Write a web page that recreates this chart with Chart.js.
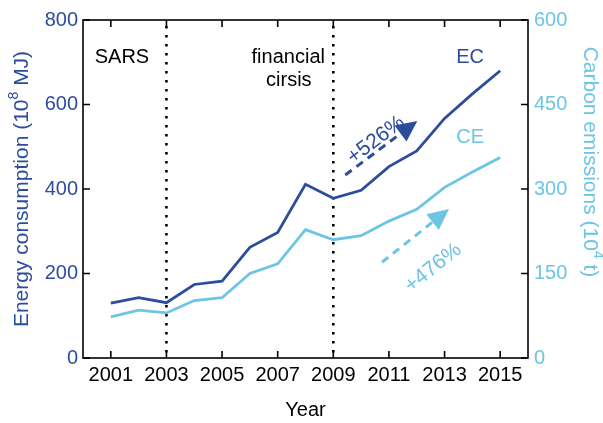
<!DOCTYPE html>
<html>
<head>
<meta charset="utf-8">
<script src="https://cdn.jsdelivr.net/npm/chart.js@4"></script>
<style>
  html, body { margin:0; padding:0; background:#fff; }
  #wrap { width:603px; height:423px; position:relative; }
</style>
</head>
<body>
<div id="wrap"><canvas id="c" width="603" height="423"></canvas></div>
<script>
// data
const years     = [2001,2002,2003,2004,2005,2006,2007,2008,2009,2010,2011,2012,2013,2014,2015];
const energyEC  = [130,143,131,174,182,262,297,411,378,397,453,490,567,625,680];   // 10^8 MJ
const carbonCE  = [73,85,80,102,107,150,167,228,210,217,243,264,303,330,356];      // 10^4 t
const xTicks    = [2001,2003,2005,2007,2009,2011,2013,2015];
const eventYears = [2003,2009];

const EC_COL = '#2c4c9c';
const CE_COL = '#6cc5e4';
const FONT = '"Liberation Sans", Arial, sans-serif';

// annotations, placed in data coordinates (year, value on given axis)
const labels = [
  { text:'SARS',      x:2001.4,  y:712, axis:'yL', color:'#000' },
  { text:'financial', x:2007.38, y:712, axis:'yL', color:'#000' },
  { text:'cirsis',    x:2007.4,  y:658, axis:'yL', color:'#000' },
  { text:'EC',        x:2013.92, y:712, axis:'yL', color:EC_COL },
  { text:'CE',        x:2013.92, y:521, axis:'yL', color:CE_COL }
];
const arrows = [
  { from:[2009.43,433], to:[2012.02,561], axis:'yL', color:EC_COL,
    text:'+526%', at:[2010.54,516] },
  { from:[2010.75,170], to:[2013.16,264.5], axis:'yR', color:CE_COL,
    text:'+476%', at:[2012.59,160] }
];

const pts = arr => years.map((y,i) => ({ x:y, y:arr[i] }));

function drawRich(ctx, parts, size) {
  // parts: [text, isSup], drawn centred on the current origin
  const supSize = Math.round(size*0.65);
  let w = 0;
  parts.forEach(p => { ctx.font = (p[1]?supSize:size) + 'px ' + FONT; w += ctx.measureText(p[0]).width; });
  let x = -w/2;
  ctx.textAlign = 'left';
  parts.forEach(p => {
    ctx.font = (p[1]?supSize:size) + 'px ' + FONT;
    ctx.fillText(p[0], x, p[1] ? -size*0.38 : 0);
    x += ctx.measureText(p[0]).width;
  });
}

const plotDeco = {
  id:'plotDeco',
  beforeDatasetsDraw(chart) {
    const {ctx, chartArea:a, scales} = chart;
    ctx.save();
    ctx.strokeStyle = '#000';
    ctx.lineWidth = 2.6;
    ctx.setLineDash([2.6, 6.4]);
    eventYears.forEach(yr => {
      const x = scales.x.getPixelForValue(yr);
      ctx.beginPath();
      ctx.moveTo(x, a.top + 6);
      ctx.lineTo(x, a.bottom);
      ctx.stroke();
    });
    ctx.restore();
  },
  afterDatasetsDraw(chart) {
    const {ctx, chartArea:a, scales} = chart;
    ctx.save();
    // frame
    ctx.strokeStyle = '#000';
    ctx.lineWidth = 1.6;
    ctx.strokeRect(a.left, a.top, a.right - a.left, a.bottom - a.top);
    // inward ticks
    const tl = 7;
    ctx.beginPath();
    xTicks.forEach(v => {
      const x = scales.x.getPixelForValue(v);
      ctx.moveTo(x, a.bottom); ctx.lineTo(x, a.bottom - tl);
      ctx.moveTo(x, a.top);    ctx.lineTo(x, a.top + tl);
    });
    scales.yL.ticks.forEach(t => {
      const y = scales.yL.getPixelForValue(t.value);
      ctx.moveTo(a.left, y); ctx.lineTo(a.left + tl, y);
    });
    scales.yR.ticks.forEach(t => {
      const y = scales.yR.getPixelForValue(t.value);
      ctx.moveTo(a.right, y); ctx.lineTo(a.right - tl, y);
    });
    ctx.stroke();

    // text labels
    ctx.textAlign = 'center';
    ctx.textBaseline = 'middle';
    ctx.font = '20px ' + FONT;
    labels.forEach(l => {
      ctx.fillStyle = l.color;
      ctx.fillText(l.text, scales.x.getPixelForValue(l.x), scales[l.axis].getPixelForValue(l.y));
    });

    // trend arrows
    arrows.forEach(ar => {
      const ys = scales[ar.axis];
      const x0 = scales.x.getPixelForValue(ar.from[0]), y0 = ys.getPixelForValue(ar.from[1]);
      const x1 = scales.x.getPixelForValue(ar.to[0]),   y1 = ys.getPixelForValue(ar.to[1]);
      const ang = Math.atan2(y1 - y0, x1 - x0);
      const hl = 21, hw = 10;
      const bx = x1 - hl*Math.cos(ang), by = y1 - hl*Math.sin(ang);
      ctx.strokeStyle = ar.color;
      ctx.fillStyle = ar.color;
      ctx.lineWidth = 3;
      ctx.setLineDash([8, 6]);
      ctx.beginPath();
      ctx.moveTo(x0, y0); ctx.lineTo(bx, by);
      ctx.stroke();
      ctx.setLineDash([]);
      ctx.beginPath();
      ctx.moveTo(x1, y1);
      ctx.lineTo(bx + hw*Math.sin(ang), by - hw*Math.cos(ang));
      ctx.lineTo(bx - hw*Math.sin(ang), by + hw*Math.cos(ang));
      ctx.closePath();
      ctx.fill();
      ctx.save();
      ctx.translate(scales.x.getPixelForValue(ar.at[0]), ys.getPixelForValue(ar.at[1]));
      ctx.rotate(ang);
      ctx.textAlign = 'center';
      ctx.font = '21px ' + FONT;
      ctx.fillText(ar.text, 0, 0);
      ctx.restore();
    });

    // axis titles
    ctx.textBaseline = 'middle';
    ctx.fillStyle = EC_COL;
    ctx.save();
    ctx.translate(22, (a.top + a.bottom)/2);
    ctx.rotate(-Math.PI/2);
    drawRich(ctx, [['Energy consumption (10', false], ['8', true], [' MJ)', false]], 21);
    ctx.restore();

    ctx.fillStyle = CE_COL;
    ctx.save();
    ctx.translate(590, 162);
    ctx.rotate(Math.PI/2);
    drawRich(ctx, [['Carbon emissions (10', false], ['4', true], [' t)', false]], 21);
    ctx.restore();

    ctx.fillStyle = '#000';
    ctx.save();
    ctx.translate((a.left + a.right)/2, 410);
    drawRich(ctx, [['Year', false]], 20);
    ctx.restore();
    ctx.restore();
  }
};

new Chart(document.getElementById('c'), {
  type:'line',
  data:{
    datasets:[
      { label:'EC', data:pts(energyEC), yAxisID:'yL', borderColor:EC_COL, borderWidth:2.8,
        pointRadius:0, tension:0, fill:false },
      { label:'CE', data:pts(carbonCE), yAxisID:'yR', borderColor:CE_COL, borderWidth:2.8,
        pointRadius:0, tension:0, fill:false }
    ]
  },
  options:{
    responsive:false, animation:false,
    layout:{ padding:{ top:20, left:0, right:0, bottom:0 } },
    plugins:{ legend:{ display:false }, tooltip:{ enabled:false } },
    scales:{
      x:{
        type:'linear', min:2000, max:2016,
        afterBuildTicks: s => { s.ticks = xTicks.map(v => ({ value:v })); },
        afterFit: s => { s.height = 65; },
        grid:{ display:false, drawTicks:false }, border:{ display:false },
        ticks:{ color:'#000', font:{ family:FONT, size:20 }, padding:5, maxRotation:0,
          callback: v => String(v) }
      },
      yL:{
        position:'left', min:0, max:800,
        afterFit: s => { s.width = 83; },
        grid:{ display:false, drawTicks:false }, border:{ display:false },
        ticks:{ stepSize:200, color:EC_COL, font:{ family:FONT, size:20 }, padding:5 }
      },
      yR:{
        position:'right', min:0, max:600,
        afterFit: s => { s.width = 75; },
        grid:{ display:false, drawTicks:false }, border:{ display:false },
        ticks:{ stepSize:150, color:CE_COL, font:{ family:FONT, size:20 }, padding:6 }
      }
    }
  },
  plugins:[plotDeco]
});
</script>
</body>
</html>
